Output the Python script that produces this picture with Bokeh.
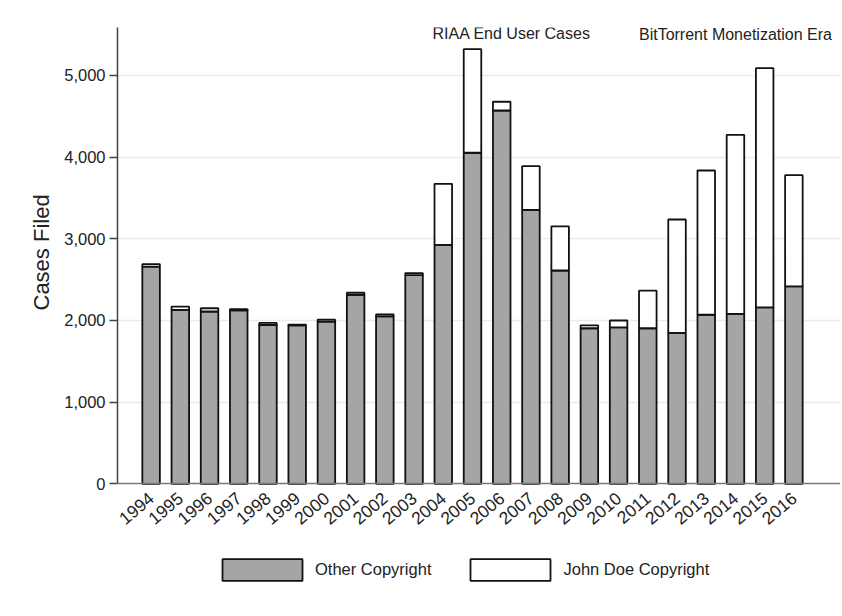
from bokeh.plotting import figure
from bokeh.models import (ColumnDataSource, Legend, LegendItem, Label, FixedTicker,
                          NumeralTickFormatter, Range1d, Grid, Title)
from bokeh.core.properties import value
from bokeh.embed import file_html
from bokeh.resources import INLINE

years = list(range(1994, 2017))
year_labels = [str(y) for y in years]
other_copyright = [2660, 2130, 2110, 2125, 1945, 1940, 1985, 2315, 2050, 2555, 2926, 4053,
                   4570, 3355, 2612, 1905, 1915, 1905, 1849, 2070, 2082, 2160, 2418]
john_doe_copyright = [30, 40, 40, 15, 25, 10, 25, 25, 25, 25, 747, 1268,
                      107, 534, 539, 35, 85, 460, 1387, 1766, 2191, 2928, 1361]
y_ticks = [0, 1000, 2000, 3000, 4000, 5000]
annotations = [("RIAA End User Cases", 2006.34, 5509), ("BitTorrent Monetization Era", 2014.0, 5497)]

FONT = "Liberation Sans"

# geometry of the plotting area (pixels)
X0, X1 = 1992.85, 2017.15          # x extent of the visible axis/grid
AXIS_W = 710                      # pixels covered by X0..X1
EXTRA_R = 13                      # extra frame room on the right for the annotation
Y_TOP = 5586
PLOT_H = 456.4                    # pixels from 0 to Y_TOP
FRAME_H = 580
px_per_x = AXIS_W / (X1 - X0)
x_right = X1 + EXTRA_R / px_per_x
y_bottom = -Y_TOP * (FRAME_H - PLOT_H) / PLOT_H

src = ColumnDataSource(dict(year=years, label=year_labels,
                            other=other_copyright, jd=john_doe_copyright))

p = figure(frame_width=AXIS_W + EXTRA_R, frame_height=FRAME_H, output_backend="svg",
           toolbar_location=None, x_axis_location=None,
           x_range=Range1d(X0, x_right), y_range=Range1d(y_bottom, Y_TOP),
           min_border_left=117, min_border_right=0, min_border_top=27, min_border_bottom=0)

rs = p.vbar_stack(["other", "jd"], x="year", width=0.6, source=src,
                  fill_color=["#a5a5a5", "#ffffff"], line_color="#111111", line_width=1.8)

p.outline_line_color = None
for g in p.grid:
    if g.dimension == 0:
        g.visible = False
    else:
        g.grid_line_color = "#ebebeb"
        g.grid_line_width = 1.5
        g.ticker = FixedTicker(ticks=y_ticks[1:])
        g.bounds = (X0, X1)

# x axis line at zero
p.add_layout(Grid(dimension=1, ticker=FixedTicker(ticks=[0]), bounds=(X0, X1),
                  grid_line_color="#777777", grid_line_width=1.5, level="overlay"))

ya = p.yaxis[0]
ya.bounds = (0, Y_TOP)
ya.ticker = FixedTicker(ticks=y_ticks)
ya.formatter = NumeralTickFormatter(format="0,0")
ya.major_label_text_font = FONT
ya.major_label_text_font_size = "16.5px"
ya.major_label_text_color = "#222222"
ya.major_label_standoff = 4
ya.major_tick_out = 8
ya.major_tick_in = 0
ya.minor_tick_line_color = None
ya.axis_line_color = "#444444"
ya.axis_line_width = 1.5
ya.major_tick_line_color = "#444444"
ya.major_tick_line_width = 1.5

# y axis title, placed along the 0..Y_TOP span
p.add_layout(Title(text="Cases Filed", align="left", offset=297,
                   text_font=FONT, text_font_size="22px", text_font_style="normal",
                   text_color="#222222", standoff=16), "left")

# rotated year labels
p.text(x="year", y=0, text="label", source=src, angle=0.7, text_align="right",
       text_baseline="middle", y_offset=11.6, text_font=value(FONT),
       text_font_size="17.5px", text_color="#222222")

for txt, x, y in annotations:
    p.add_layout(Label(x=x, y=y, text=txt, text_align="center", text_baseline="alphabetic",
                       text_font=FONT, text_font_size="16px", text_color="#222222"))

legend = Legend(items=[LegendItem(label="Other Copyright", renderers=[rs[0]]),
                       LegendItem(label="John Doe Copyright", renderers=[rs[1]])],
                orientation="horizontal", location=(95, 24),
                glyph_width=100, glyph_height=27, label_standoff=3, spacing=29,
                border_line_color=None, background_fill_alpha=0,
                label_text_font=FONT, label_text_font_size="16.5px",
                label_text_color="#222222", margin=0, padding=0)
p.add_layout(legend)

open("out.html", "w").write(file_html(p, INLINE))
